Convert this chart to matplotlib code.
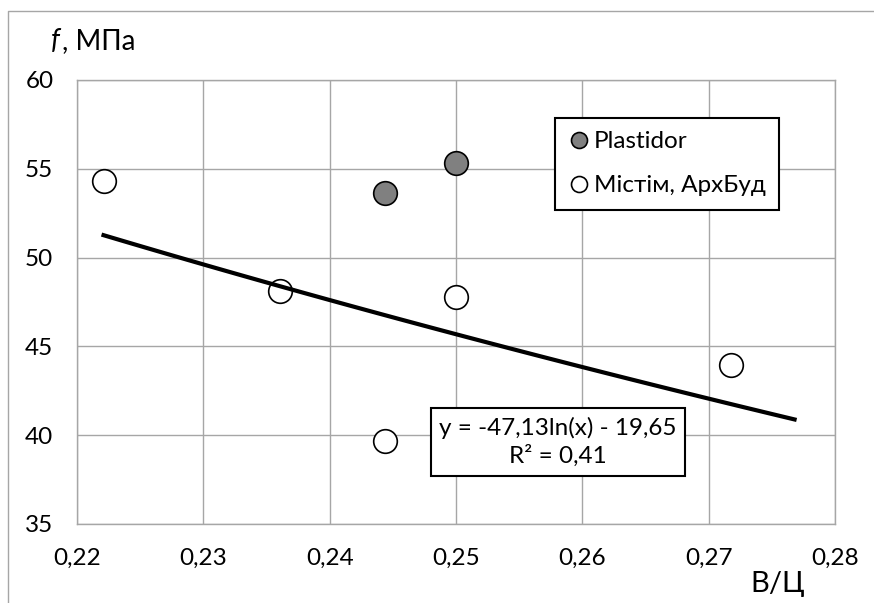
import numpy as np
import matplotlib.pyplot as plt
from matplotlib.lines import Line2D

plt.rcParams['font.family'] = ['Lato', 'DejaVu Sans']

# data
plastidor_x = [0.2444, 0.25]
plastidor_y = [53.65, 55.35]
other_x = [0.2221, 0.2361, 0.2444, 0.25, 0.2718]
other_y = [54.3, 48.1, 39.65, 47.8, 43.97]

# log trend line y = a*ln(x) + b
trend_a = -47.13
trend_b = -19.65
trend_range = [0.2221, 0.2768]

x_ticks = [0.22, 0.23, 0.24, 0.25, 0.26, 0.27, 0.28]
x_labels = ['0,22', '0,23', '0,24', '0,25', '0,26', '0,27', '0,28']
y_ticks = [35, 40, 45, 50, 55, 60]

W, H = 874, 603
fs = 17.5
grid_c = '#a6a6a6'

fig = plt.figure(figsize=(W / 100, H / 100), dpi=100)
ax = fig.add_axes([77 / W, 1 - 524 / H, (835 - 77) / W, (524 - 80) / H])

xs = np.linspace(trend_range[0], trend_range[1], 100)
ax.plot(xs, trend_a * np.log(xs) + trend_b, color='black', lw=3, zorder=4)
ax.plot(other_x, other_y, 'o', ms=17, mfc='white', mec='black', mew=1.2,
        zorder=3, label='Містім, АрхБуд')
ax.plot(plastidor_x, plastidor_y, 'o', ms=17, mfc='#808080', mec='black',
        mew=1.2, zorder=3, label='Plastidor')

ax.set_xlim(0.22, 0.28)
ax.set_ylim(35, 60)
ax.set_xticks(x_ticks)
ax.set_xticklabels(x_labels)
ax.set_yticks(y_ticks)
ax.tick_params(axis='both', length=0, labelsize=fs)
ax.tick_params(axis='x', pad=17)
ax.tick_params(axis='y', pad=17)
ax.grid(True, color=grid_c, lw=1)
ax.set_axisbelow(True)
for s in ax.spines.values():
    s.set_color(grid_c)
    s.set_linewidth(1)

handles = [Line2D([], [], ls='none', marker='o', ms=11.5, mfc='#808080', mec='black', mew=1.2),
           Line2D([], [], ls='none', marker='o', ms=11.5, mfc='white', mec='black', mew=1.2)]
leg = ax.legend(handles, ['Plastidor', 'Містім, АрхБуд'], loc='upper left',
                bbox_to_anchor=(555 / W, 1 - 118 / H), bbox_transform=fig.transFigure,
                borderaxespad=0, fontsize=fs, fancybox=False, edgecolor='black',
                framealpha=1, borderpad=0.55, handlelength=0.9, handletextpad=0.16,
                labelspacing=0.95)
leg.get_frame().set_linewidth(1.5)

eq = 'y = %.2fln(x) - %.2f' % (trend_a, -trend_b)
eq = eq.replace('.', ',')
fig.text(558 / W, 1 - 442 / H, eq + '\nR² = 0,41', ha='center', va='center',
         fontsize=fs, linespacing=1.35,
         bbox=dict(boxstyle='square,pad=0.35', fc='white', ec='black', lw=1.5))

# axis titles
fig.text(51 / W, 1 - 49 / H, 'f', style='italic', fontsize=20, va='baseline')
fig.text(62 / W, 1 - 49 / H, ', МПа', fontsize=20, va='baseline')
fig.text(778 / W, 1 - 592 / H, 'В/Ц', fontsize=21, ha='center', va='baseline')

# chart area border
fig.add_artist(Line2D([7.5 / W, 7.5 / W, 1], [0, 1 - 10.5 / H, 1 - 10.5 / H],
                      color=grid_c, lw=1, transform=fig.transFigure))

fig.savefig('out.png', dpi=100)
